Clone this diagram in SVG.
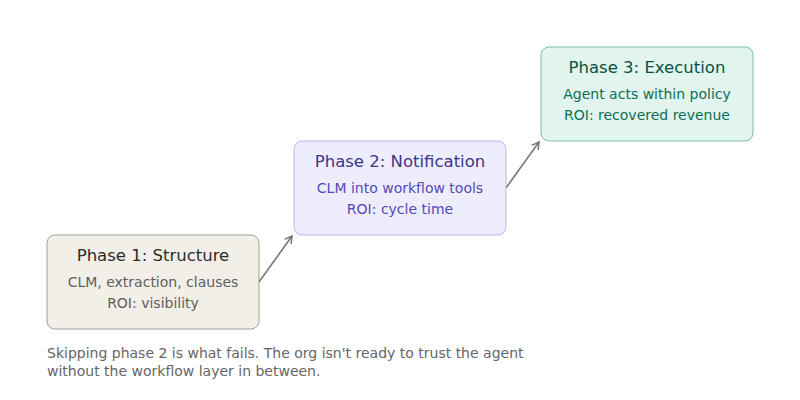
<svg xmlns="http://www.w3.org/2000/svg" width="800" height="400" viewBox="0 0 800 400">
<defs>
<marker id="arr" viewBox="0 0 10 10" refX="8" refY="5" markerWidth="10" markerHeight="10" orient="auto" markerUnits="userSpaceOnUse">
<path d="M1,1 L8,5 L1,9" fill="none" stroke="#777" stroke-width="1.5"/>
</marker>
<style>
text{font-family:"DejaVu Sans",sans-serif;text-anchor:middle}
.t{font-size:16.5px}
.s{font-size:14px}
.n{font-size:14px;fill:#666;text-anchor:start}
</style>
</defs>
<rect width="800" height="400" fill="#fff"/>
<g id="connectors" stroke="#777" stroke-width="1.6" fill="none">
<line x1="259" y1="282" x2="292" y2="236" marker-end="url(#arr)"/>
<line x1="506" y1="188" x2="539" y2="142" marker-end="url(#arr)"/>
</g>
<g id="phase1">
<rect x="47" y="235" width="212" height="94" rx="8" fill="#f1efe8" stroke="#8d8a82" stroke-width="0.8"/>
<text class="t" x="153" y="261" fill="#2c2c2a">Phase 1: Structure</text>
<text class="s" x="153" y="287" fill="#5f5e5a">CLM, extraction, clauses</text>
<text class="s" x="153" y="308" fill="#5f5e5a">ROI: visibility</text>
</g>
<g id="phase2">
<rect x="294" y="141" width="212" height="94" rx="8" fill="#eeedfe" stroke="#aaa6e0" stroke-width="0.8"/>
<text class="t" x="400" y="167" fill="#3c3489">Phase 2: Notification</text>
<text class="s" x="400" y="193" fill="#534ab7">CLM into workflow tools</text>
<text class="s" x="400" y="214" fill="#534ab7">ROI: cycle time</text>
</g>
<g id="phase3">
<rect x="541" y="47" width="212" height="94" rx="8" fill="#e1f5ee" stroke="#5dae94" stroke-width="0.8"/>
<text class="t" x="647" y="73" fill="#085041">Phase 3: Execution</text>
<text class="s" x="647" y="99" fill="#0f6e56">Agent acts within policy</text>
<text class="s" x="647" y="120" fill="#0f6e56">ROI: recovered revenue</text>
</g>
<g id="note">
<text class="n" x="47" y="358">Skipping phase 2 is what fails. The org isn't ready to trust the agent</text>
<text class="n" x="47" y="376">without the workflow layer in between.</text>
</g>
</svg>
